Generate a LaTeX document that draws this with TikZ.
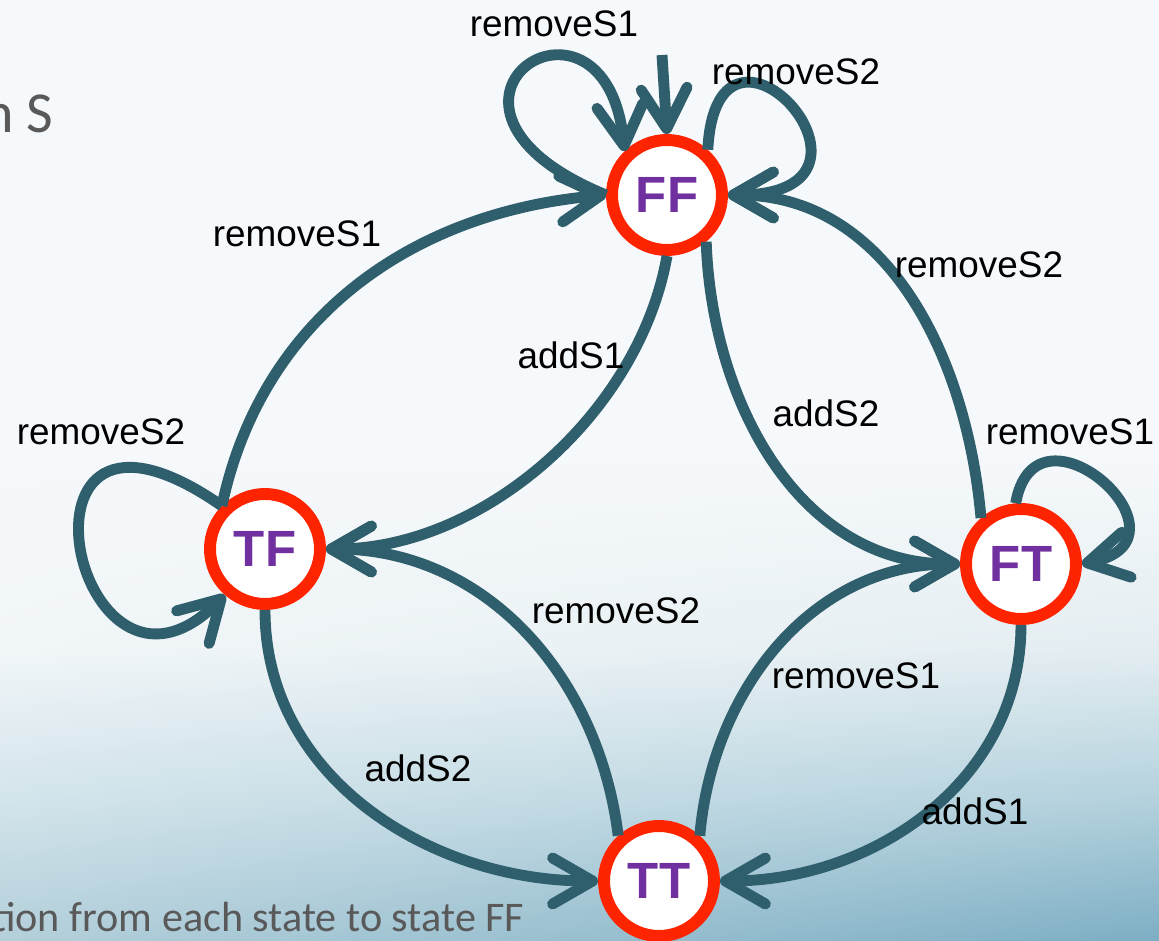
\documentclass[tikz,border=0pt]{standalone}
\usepackage{fontspec}
\setmainfont{Liberation Sans}
\newfontfamily\slidefont{Carlito}
\usetikzlibrary{arrows.meta,shadings}

\definecolor{edgeteal}{HTML}{2F5E6C}
\definecolor{ringred}{HTML}{FF2400}
\definecolor{statepurple}{HTML}{7030A0}
\definecolor{slidegray}{HTML}{595959}
\definecolor{bgA}{HTML}{F6F9FB}
\definecolor{bgB}{HTML}{F1F6F8}
\definecolor{bgC}{HTML}{E3EDF1}
\definecolor{bgD}{HTML}{D3E4EB}
\definecolor{bgE}{HTML}{B3D1DD}
\definecolor{bgF}{HTML}{B3CFDA}
\definecolor{bgG}{HTML}{7DAEC4}

\tikzset{
  statenode/.style = {circle, draw=ringred, line width=3.4pt, fill=white,
                      minimum size=1.1cm, inner sep=0pt, text=statepurple,
                      font=\fontsize{14.5}{16}\selectfont\bfseries},
  trans/.style = {draw=edgeteal, line width=3.1pt,
                  -{Straight Barb[length=4mm, width=4.6mm, round]}},
  lbl/.style = {inner sep=0pt, font=\fontsize{10.5}{12}\selectfont},
  slidetext/.style = {anchor=base east, inner sep=0pt, text=slidegray}
}

\begin{document}
\begin{tikzpicture}
	\def \W{11.59}
	\def \H{-9.41}

	\useasboundingbox (0,0) rectangle (\W,\H);
	\clip (0,0) rectangle (\W,\H);

	% Background
	\fill[bgA] (0,0) rectangle (\W,-4.5);
	\shade[upper left=bgA, upper right=bgA, lower left=bgB, lower right=bgC] (0,-4.5) rectangle (\W,-6.5);
	\shade[upper left=bgB, upper right=bgC, lower left=bgD, lower right=bgE] (0,-6.5) rectangle (\W,-8.0);
	\shade[upper left=bgD, upper right=bgE, lower left=bgF, lower right=bgG] (0,-8.0) rectangle (\W,\H);

	% Slide text
	\node[slidetext, font=\slidefont\fontsize{16.5}{18}\selectfont] (title) at (0.54,-1.32) {n S};
	\node[slidetext, font=\slidefont\fontsize{12}{14}\selectfont] (note) at (5.25,-9.32) {tion from each state to state FF};

	% States
	\node[statenode] (FF) at (6.67,-1.95) {FF};
	\node[statenode] (TF) at (2.65,-5.49) {TF};
	\node[statenode] (FT) at (10.21,-5.64) {FT};
	\node[statenode] (TT) at (6.59,-8.81) {TT};

	% Start arrow
	\coordinate (init) at (6.62,-0.55);
	\draw[trans] (init) -- (FF.north);

	% Transitions
	\draw[trans] (TF.135) to[out=78, in=185] (FF.west);
	\draw[trans] (FF.south) to[out=-100, in=0, looseness=0.9] (TF.east);
	\draw[trans] (FF.-50) to[out=-88, in=180] (FT.west);
	\draw[trans] (FT.131) to[out=95, in=0] (FF.east);
	\draw[trans] (TF.south) to[out=-90, in=180] (TT.west);
	\draw[trans] (TT.132) to[out=97, in=0] (TF.east);
	\draw[trans] (TT.48) to[out=85, in=180] (FT.west);
	\draw[trans] (FT.south) to[out=-90, in=0] (TT.east);

	% Self loops
	\draw[trans] (FF.west) .. controls +(-2.2,0.9) and +(-0.2,1.9) .. (FF.134);
	\draw[trans] (FF.48) .. controls +(0.09,1.75) and +(1.86,0) .. (FF.east);
	\draw[trans] (TF.135) .. controls +(-2.3,1.6) and +(-1.5,-1.5) .. (TF.229);
	\draw[trans] (FT.95) .. controls +(0.2,1.14) and +(1.2,0.25) .. (FT.east);

	% Labels
	\node[lbl] (lFFa) at (5.54,-0.24) {removeS1};
	\node[lbl] (lFFb) at (7.96,-0.72) {removeS2};
	\node[lbl] (lTFFF) at (2.97,-2.34) {removeS1};
	\node[lbl] (lFFTF) at (5.71,-3.55) {addS1};
	\node[lbl] (lFTFF) at (9.79,-2.65) {removeS2};
	\node[lbl] (lFFFT) at (8.26,-4.13) {addS2};
	\node[lbl] (lTF) at (1.01,-4.32) {removeS2};
	\node[lbl] (lFT) at (10.70,-4.32) {removeS1};
	\node[lbl] (lTTTF) at (6.16,-6.11) {removeS2};
	\node[lbl] (lTTFT) at (8.56,-6.76) {removeS1};
	\node[lbl] (lTFTT) at (4.18,-7.68) {addS2};
	\node[lbl] (lFTTT) at (9.75,-8.11) {addS1};

\end{tikzpicture}
\end{document}
